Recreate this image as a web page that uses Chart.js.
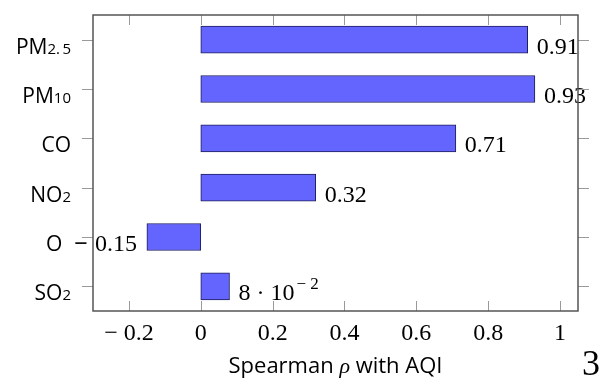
<!DOCTYPE html>
<html>
<head>
<meta charset="utf-8">
<script src="https://cdn.jsdelivr.net/npm/chart.js@4.4.0/dist/chart.umd.min.js"></script>
<style>
  html, body { margin: 0; padding: 0; background: #fff; }
</style>
</head>
<body>
<canvas id="chart" width="603" height="381"></canvas>
<script>
// data
const pollutants = ['PM2.5', 'PM10', 'CO', 'NO2', 'O', 'SO2'];
const labelMain = ['PM', 'PM', 'CO', 'NO', 'O', 'SO'];
const labelSub = ['2.\u20095', '10', '', '2', '\u2007', '2'];
const rhoValues = [0.91, 0.93, 0.71, 0.32, -0.15, 0.08];
const xTicks = [-0.2, 0, 0.2, 0.4, 0.6, 0.8, 1];
const pageNumber = '3';

const serif = '"Liberation Serif", "DejaVu Serif", serif';
const sans = '"Open Sans", "Noto Sans", sans-serif';

function fmtTick(v) {
    if (v < 0) return '\u2212 ' + Math.abs(v);
    return String(v);
}

// value labels next to the bars, pgfplots style
function drawValue(ctx, v, x, y, alignRight) {
    ctx.font = '24px ' + serif;
    ctx.fillStyle = '#000';
    ctx.textBaseline = 'alphabetic';
    if (Math.abs(v) < 0.1 && v !== 0) {
        const exp = Math.floor(Math.log10(Math.abs(v)));
        const mant = Math.round(v / Math.pow(10, exp));
        const base = mant + ' \u00b7 10';
        const sup = '\u2212 ' + Math.abs(exp);
        ctx.textAlign = 'left';
        ctx.fillText(base, x, y);
        const w = ctx.measureText(base).width;
        ctx.font = '17px ' + serif;
        ctx.fillText(sup, x + w + 2, y - 11);
        return;
    }
    const num = String(Math.abs(v));
    ctx.textAlign = 'left';
    const wn = ctx.measureText(num).width;
    let start = alignRight ? x - wn : x;
    if (v < 0) {
        ctx.font = 'bold 24px ' + serif;
        const wm = ctx.measureText('\u2212').width;
        if (!alignRight) { ctx.fillText('\u2212', start, y); start += wm + 7; }
        else ctx.fillText('\u2212', start - wm - 7, y);
        ctx.font = '24px ' + serif;
    }
    ctx.fillText(num, start, y);
}

const decorPlugin = {
    id: 'decor',
    afterDatasetsDraw(chart) {
        const ctx = chart.ctx;
        const meta = chart.getDatasetMeta(0);
        ctx.save();
        meta.data.forEach((bar, i) => {
            const v = rhoValues[i];
            if (v >= 0) drawValue(ctx, v, bar.x + 9, bar.y + 14, false);
            else drawValue(ctx, v, bar.x - 10, bar.y + 14, true);
        });
        ctx.restore();
    },
    afterDraw(chart) {
        const ctx = chart.ctx;
        const area = chart.chartArea;
        const xs = chart.scales.x;
        const ys = chart.scales.y;
        ctx.save();

        // y labels with small subscripts
        ctx.fillStyle = '#000';
        ctx.textBaseline = 'alphabetic';
        ctx.textAlign = 'left';
        pollutants.forEach((p, i) => {
            const y = ys.getPixelForValue(i) + 14;
            ctx.font = '15px ' + sans;
            const ws = ctx.measureText(labelSub[i]).width;
            ctx.font = '21px ' + sans;
            const wm = ctx.measureText(labelMain[i]).width;
            const right = 71;
            ctx.fillText(labelMain[i], right - ws - wm, y);
            ctx.font = '15px ' + sans;
            ctx.fillText(labelSub[i], right - ws, y);
        });

        // tick marks
        ctx.strokeStyle = '#9a9a9a';
        ctx.lineWidth = 1;
        ctx.beginPath();
        xTicks.forEach(t => {
            const x = Math.round(xs.getPixelForValue(t)) + 0.5;
            ctx.moveTo(x, area.bottom); ctx.lineTo(x, area.bottom - 10);
            ctx.moveTo(x, area.top); ctx.lineTo(x, area.top + 10);
        });
        pollutants.forEach((p, i) => {
            const y = Math.round(ys.getPixelForValue(i)) + 0.5;
            ctx.moveTo(area.left, y); ctx.lineTo(area.left - 11, y);
            ctx.moveTo(area.right, y); ctx.lineTo(area.right + 11, y);
        });
        ctx.stroke();

        // frame
        ctx.strokeStyle = '#555';
        ctx.lineWidth = 1.5;
        ctx.strokeRect(area.left, area.top, area.right - area.left, area.bottom - area.top);

        // axis title
        const parts = [['Spearman ', '22px ' + sans], ['\u03c1', 'italic 22px ' + serif], [' with AQI', '22px ' + sans]];
        let total = 0;
        parts.forEach(pt => { ctx.font = pt[1]; total += ctx.measureText(pt[0]).width; });
        let tx = (area.left + area.right) / 2 - total / 2;
        ctx.textAlign = 'left';
        parts.forEach(pt => {
            ctx.font = pt[1];
            ctx.fillText(pt[0], tx, 373);
            tx += ctx.measureText(pt[0]).width;
        });

        // stray page number
        ctx.font = '36px ' + serif;
        ctx.fillText(pageNumber, 582, 375);
        ctx.restore();
    }
};

new Chart(document.getElementById('chart'), {
    type: 'bar',
    data: {
        labels: pollutants,
        datasets: [{
            data: rhoValues,
            backgroundColor: '#6464ff',
            borderColor: '#1e1e5c',
            borderWidth: 1,
            borderSkipped: false,
            barThickness: 27
        }]
    },
    options: {
        indexAxis: 'y',
        responsive: false,
        animation: false,
        devicePixelRatio: 1,
        layout: { padding: { top: 15, right: 25, left: 0, bottom: 0 } },
        plugins: { legend: { display: false }, tooltip: { enabled: false } },
        scales: {
            x: {
                type: 'linear',
                min: -0.3,
                max: 1.05,
                afterBuildTicks: s => { s.ticks = xTicks.map(v => ({ value: v })); },
                afterFit: s => { s.height = 70; },
                grid: { display: false, drawTicks: false },
                border: { display: false },
                ticks: {
                    padding: 8,
                    color: '#000',
                    font: { family: serif, size: 24 },
                    maxRotation: 0,
                    autoSkip: false,
                    callback: v => fmtTick(v)
                }
            },
            y: {
                type: 'category',
                afterFit: s => { s.width = 93; },
                grid: { display: false, drawTicks: false },
                border: { display: false },
                ticks: { display: false }
            }
        }
    },
    plugins: [decorPlugin]
});
</script>
</body>
</html>
